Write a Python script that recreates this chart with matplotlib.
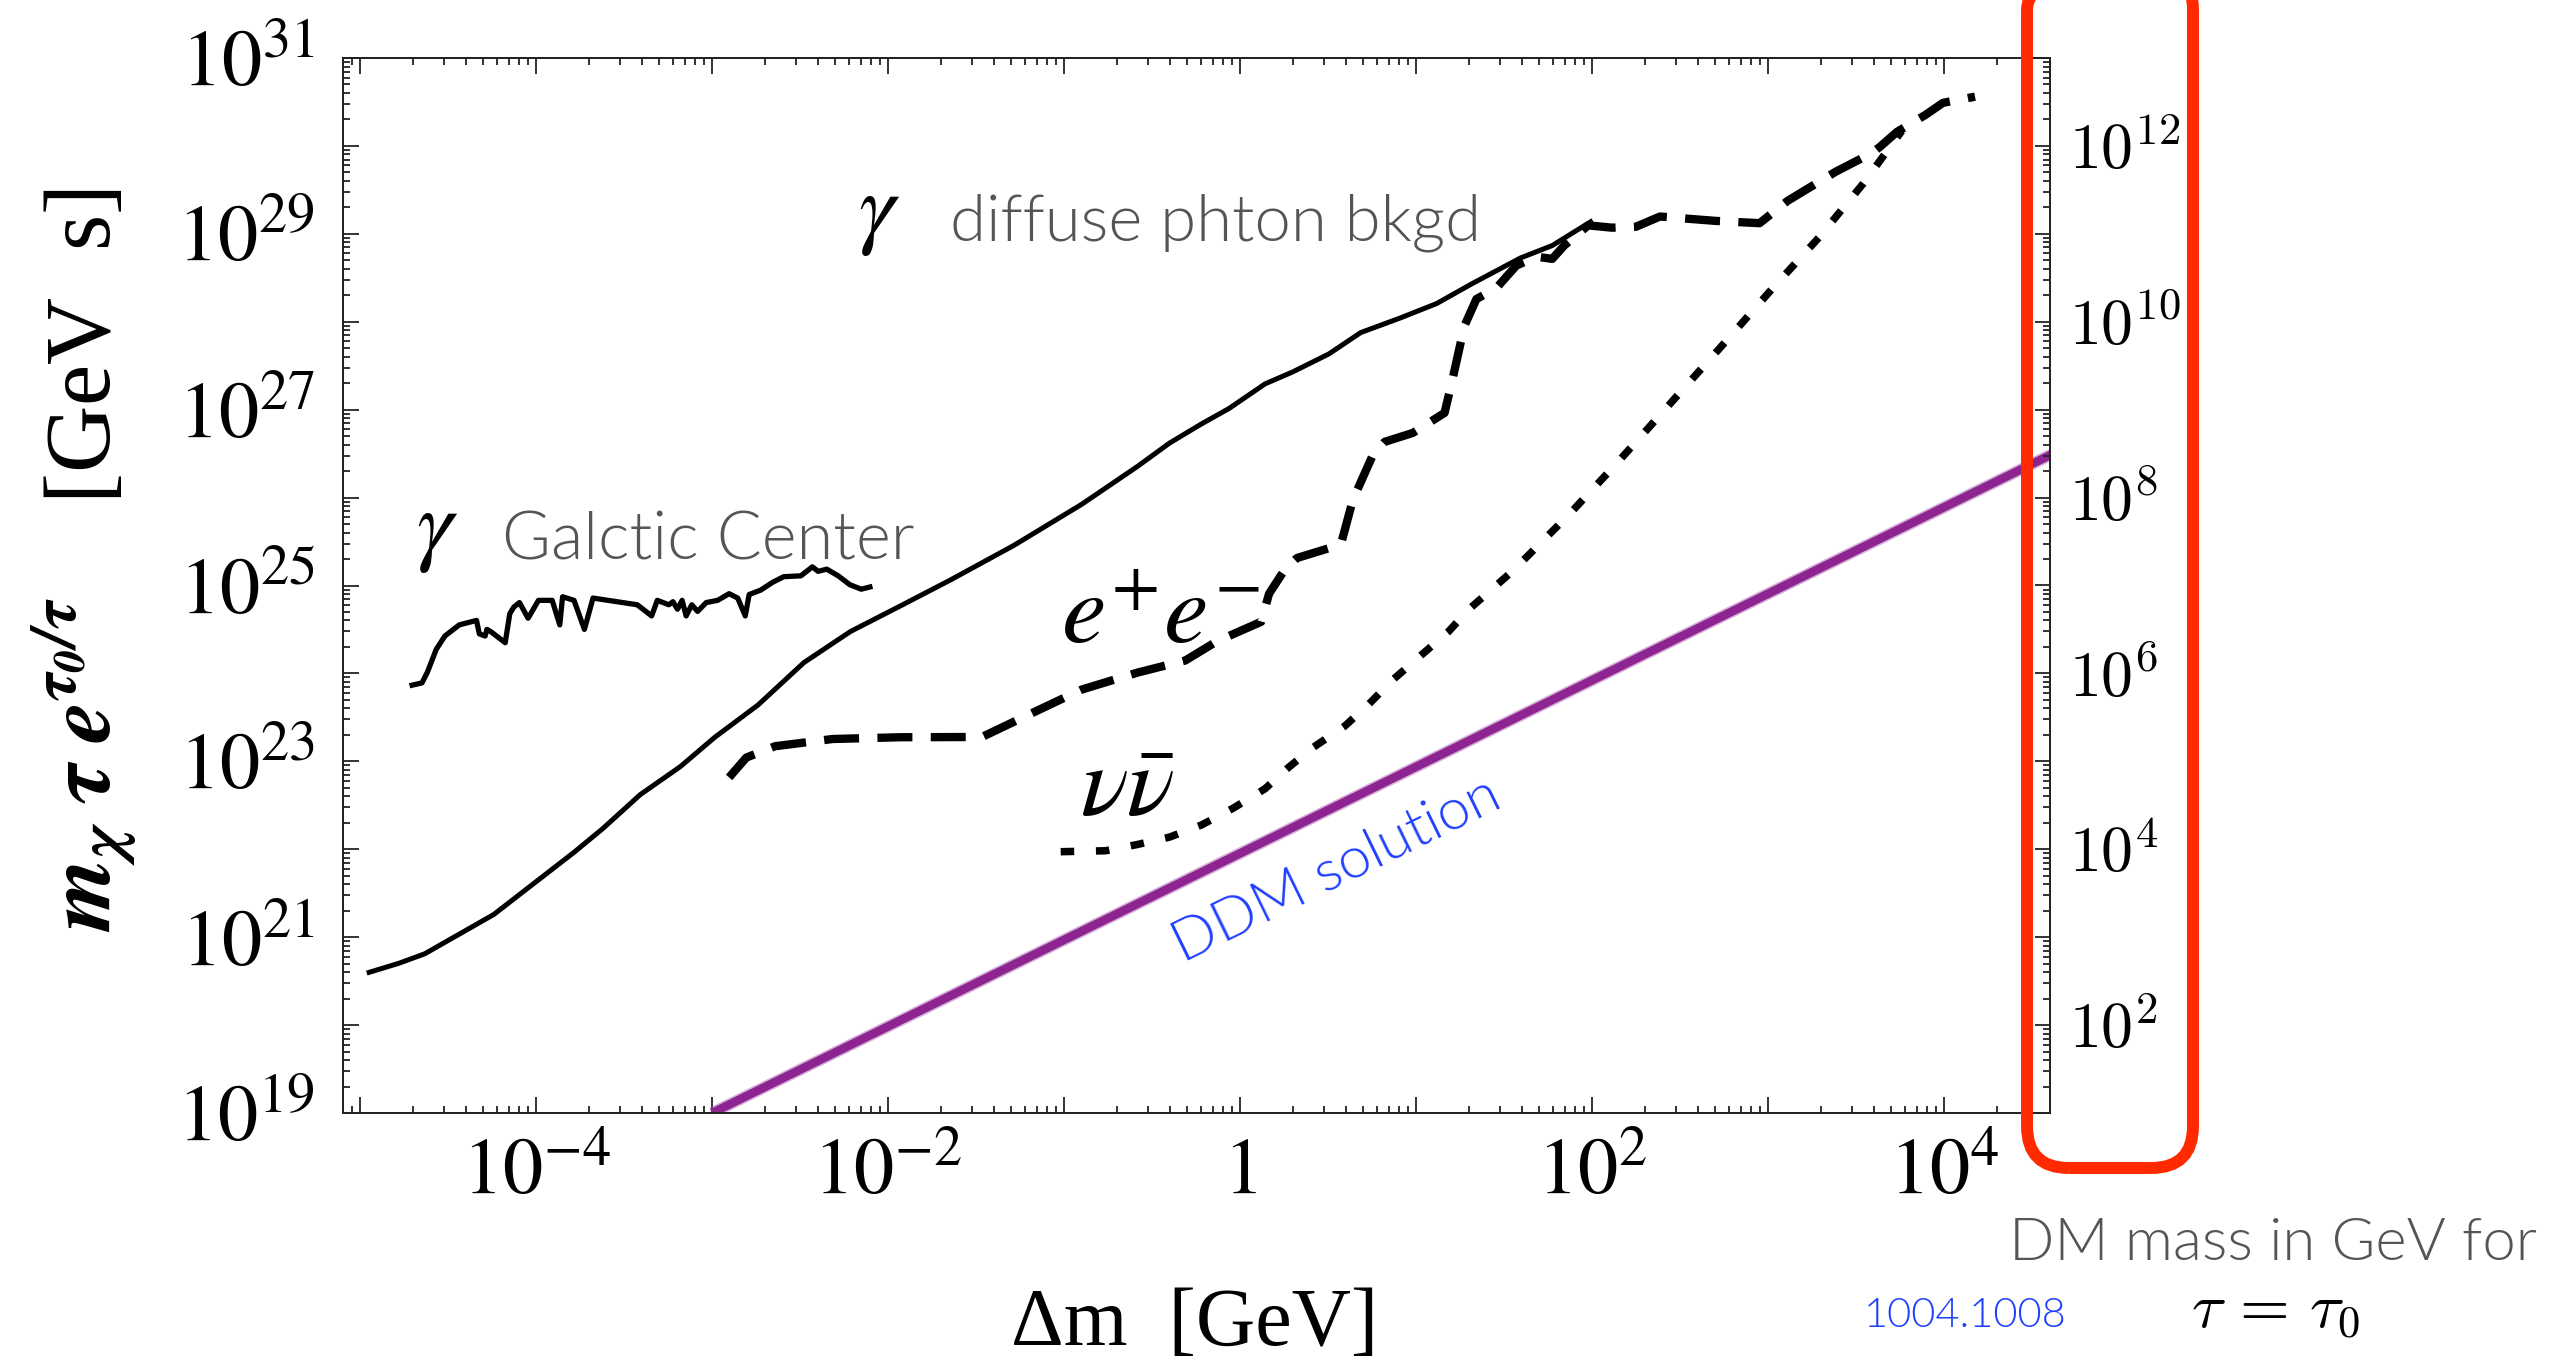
import numpy as np
import matplotlib
matplotlib.use("Agg")
import matplotlib.pyplot as plt
from matplotlib.ticker import LogLocator, NullFormatter
from matplotlib.patches import FancyBboxPatch

W, H, DPI = 2566, 1359, 100

# ---------------- data (log10 values) ----------------
gc_logx = [-4.704, -4.648, -4.616, -4.567, -4.518, -4.436, -4.338, -4.322, -4.289, -4.279,
           -4.257, -4.224, -4.175, -4.149, -4.126, -4.094, -4.045, -3.986, -3.908, -3.865,
           -3.849, -3.784, -3.725, -3.676, -3.425, -3.343, -3.311, -3.245, -3.222, -3.196,
           -3.170, -3.147, -3.115, -3.082, -3.033, -2.968, -2.903, -2.854, -2.811, -2.789,
           -2.723, -2.658, -2.593, -2.495, -2.430, -2.397, -2.348, -2.283, -2.217, -2.152, -2.103]
gc_logy = [23.866, 23.892, 24.019, 24.273, 24.425, 24.552, 24.603, 24.450, 24.425, 24.501,
           24.476, 24.425, 24.349, 24.679, 24.755, 24.806, 24.628, 24.831, 24.831, 24.552,
           24.872, 24.831, 24.501, 24.857, 24.781, 24.654, 24.831, 24.781, 24.816, 24.730,
           24.831, 24.654, 24.781, 24.705, 24.806, 24.831, 24.907, 24.857, 24.654, 24.897,
           24.948, 25.034, 25.100, 25.110, 25.212, 25.161, 25.186, 25.110, 25.009, 24.958, 24.983]

diffuse_logx = [-4.948, -4.779, -4.632, -4.240, -3.784, -3.620, -3.408, -3.180, -2.984, -2.739,
                -2.478, -2.214, -1.942, -1.648, -1.285, -0.900, -0.583, -0.402, -0.220, -0.062,
                0.142, 0.301, 0.505, 0.686, 0.913, 1.117, 1.321, 1.593, 1.774, 1.992]
diffuse_logy = [20.600, 20.703, 20.811, 21.258, 21.965, 22.236, 22.621, 22.940, 23.274, 23.640,
                24.123, 24.476, 24.755, 25.060, 25.456, 25.923, 26.354, 26.618, 26.837, 27.014,
                27.293, 27.431, 27.634, 27.877, 28.045, 28.207, 28.436, 28.725, 28.867, 29.137]

ee_logx = [-2.903, -2.805, -2.641, -2.315, -1.930, -1.466, -1.172, -0.900, -0.583, -0.311,
           -0.130, 0.120, 0.165, 0.256, 0.324, 0.573, 0.641, 0.754, 0.822, 0.981,
           1.162, 1.207, 1.275, 1.343, 1.457, 1.570, 1.683, 1.774, 1.842, 1.978,
           2.114, 2.250, 2.386, 2.544, 2.703, 2.952, 3.111, 3.383, 3.591, 3.636,
           3.733, 3.892, 3.994, 4.176]
ee_logy = [22.817, 23.043, 23.172, 23.254, 23.274, 23.277, 23.558, 23.816, 24.009, 24.147,
           24.367, 24.587, 24.907, 25.187, 25.313, 25.466, 25.974, 26.481, 26.634, 26.735,
           26.963, 27.344, 27.953, 28.258, 28.385, 28.639, 28.740, 28.715, 28.867, 29.096,
           29.070, 29.081, 29.197, 29.172, 29.147, 29.121, 29.375, 29.705, 29.920, 29.990,
           30.160, 30.350, 30.490, 30.560]

nu_logx = [-1.019, -0.764, -0.583, -0.402, -0.220, -0.039, 0.142, 0.278, 0.414, 0.596,
           0.732, 0.868, 1.026, 1.185, 1.298, 1.547, 1.864, 2.136, 2.363, 2.544,
           2.771, 3.030, 3.290, 3.540, 3.760]
nu_logy = [21.972, 21.983, 22.054, 22.137, 22.275, 22.467, 22.688, 22.935, 23.156, 23.403,
           23.651, 23.927, 24.202, 24.477, 24.725, 25.161, 25.796, 26.380, 26.887, 27.293,
           27.801, 28.390, 28.960, 29.570, 30.170]

ddm_logx = [-3.0, 4.65]
ddm_logy = [19.0, 26.53]

x_ticks = [1e-5, 1e-4, 1e-3, 1e-2, 1e-1, 1, 1e1, 1e2, 1e3, 1e4]
x_labels = ['', r'$10^{-4}$', '', r'$10^{-2}$', '', r'$1$', '', r'$10^{2}$', '', r'$10^{4}$']
y_ticks = [10.0**k for k in range(19, 32)]
y_labels = [r'$10^{%d}$' % k if k % 2 == 1 else '' for k in range(19, 32)]
r_ticks = [10.0**k for k in range(1, 14)]
r_labels = [r'$10^{%d}$' % k if (k % 2 == 0 and k <= 12) else '' for k in range(1, 14)]

# ---------------- figure ----------------
plt.rcParams['font.family'] = ['Liberation Serif', 'DejaVu Serif']
plt.rcParams['mathtext.fontset'] = 'stix'

fig = plt.figure(figsize=(W / DPI, H / DPI), dpi=DPI)
L, R, T, B = 343, 2050, 58, 1113
ax = fig.add_axes([L / W, 1 - B / H, (R - L) / W, (B - T) / H])
ax.set_xscale('log')
ax.set_yscale('log')
ax.set_xlim(10**-5.0966, 10**4.602)
ax.set_ylim(1e19, 1e31)

def p10(a):
    return np.power(10.0, np.asarray(a))

ax.plot(p10(gc_logx), p10(gc_logy), color='black', lw=3.8)
ax.plot(p10(diffuse_logx), p10(diffuse_logy), color='black', lw=3.6)
ax.plot(p10(ee_logx), p10(ee_logy), color='black', lw=6.0, ls=(0, (4.2, 2.2)))
ax.plot(p10(nu_logx), p10(nu_logy), color='black', lw=5.4, ls=(0, (1.8, 2.9)))
ax.plot(p10(ddm_logx), p10(ddm_logy), color='#a452a8', lw=8.5, alpha=0.45, solid_capstyle='butt')
ax.plot(p10(ddm_logx), p10(ddm_logy), color='#8e2392', lw=6.2, solid_capstyle='butt')

spine_c = '#222222'
for s in ax.spines.values():
    s.set_linewidth(1.3)
    s.set_color(spine_c)

ax.set_xticks(x_ticks, x_labels)
ax.set_yticks(y_ticks, y_labels)
ax.xaxis.set_minor_locator(LogLocator(base=10, subs=np.arange(2, 10), numticks=30))
ax.yaxis.set_minor_locator(LogLocator(base=10, subs=np.arange(2, 10), numticks=30))
ax.xaxis.set_minor_formatter(NullFormatter())
ax.yaxis.set_minor_formatter(NullFormatter())
ax.tick_params(which='both', direction='in', top=True, right=False, color=spine_c, width=1.3)
ax.tick_params(which='major', length=11.5, labelsize=58)
ax.tick_params(axis='x', which='major', pad=17)
ax.tick_params(axis='y', which='major', pad=20)
ax.tick_params(which='minor', length=5)

ax2 = ax.twinx()
ax2.set_yscale('log')
ax2.set_ylim(1e1, 1e13)
ax2.set_yticks(r_ticks, r_labels, math_fontfamily='cm')
ax2.yaxis.set_minor_locator(LogLocator(base=10, subs=np.arange(2, 10), numticks=30))
ax2.yaxis.set_minor_formatter(NullFormatter())
ax2.tick_params(which='both', direction='in', color=spine_c, width=1.3)
ax2.tick_params(which='major', length=11, labelsize=46, pad=14)
ax2.tick_params(which='minor', length=5)
for s in ax2.spines.values():
    s.set_linewidth(1.3)
    s.set_color(spine_c)

# ---------------- texts (pixel positions in the 2566x1359 canvas) ----------------
def fxy(x, y):
    return x / W, 1 - y / H

sans = ['Lato', 'DejaVu Sans']
gray = '#555555'
SW = 300  # light-ish weight

fig.text(*fxy(858, 217), r'$\gamma$', fontsize=66, ha='left', va='center', color='black')
fig.text(*fxy(950, 241), 'diffuse phton bkgd', fontsize=47, family=sans, weight=SW,
         color=gray, ha='left', va='baseline')
fig.text(*fxy(416, 534), r'$\gamma$', fontsize=66, ha='left', va='center', color='black')
fig.text(*fxy(502, 560), 'Galctic Center', fontsize=48, family=sans, weight=SW,
         color=gray, ha='left', va='baseline')
fig.text(*fxy(1061, 643), r'$e^{+}e^{-}$', fontsize=72, ha='left', va='baseline')
fig.text(*fxy(1080, 815), r'$\nu\bar{\nu}$', fontsize=72, ha='left', va='baseline')
fig.text(*fxy(1337, 871), 'DDM solution', fontsize=42, family=sans, weight=SW,
         color='#1f3fff', rotation=26, rotation_mode='anchor', ha='center', va='center')
fig.text(*fxy(1864, 1327), '1004.1008', fontsize=30, family=sans, weight=SW,
         color='#1f3fff', ha='left', va='baseline')
fig.text(*fxy(2009, 1260), 'DM mass in GeV for', fontsize=43, family=sans, weight=SW,
         color=gray, ha='left', va='baseline')
fig.text(*fxy(2191, 1328), r'$\tau\,=\,\tau_0$', fontsize=46, math_fontfamily='cm',
         ha='left', va='baseline')

fig.text(*fxy(1195, 1345), '\u0394m  [GeV]', fontsize=59, ha='center', va='baseline')
fig.text(*fxy(84, 560), r'$\mathbfit{m_\chi\ \tau\ e^{\tau_0/\tau}}$    [GeV  s]', fontsize=67,
         rotation=90, ha='center', va='center')

# red highlight box around the right axis
box = FancyBboxPatch((20.27, 1.91), 1.66, 12.0,
                     boxstyle="round,pad=0,rounding_size=0.42",
                     transform=fig.dpi_scale_trans, fill=False,
                     edgecolor='#ff2a00', lw=8.6, clip_on=False)
fig.add_artist(box)

fig.savefig('out.png', dpi=DPI)
